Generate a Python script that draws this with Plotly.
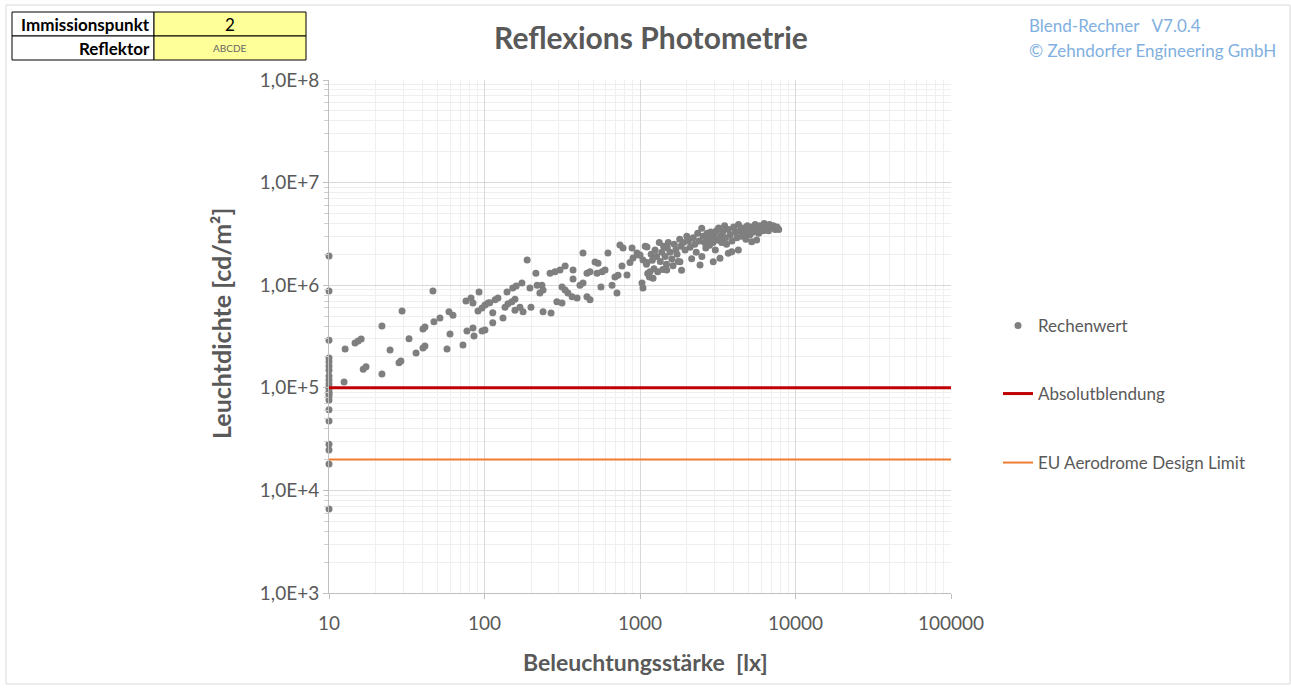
import plotly.graph_objects as go

# ---------------- data ----------------
# Rechenwert points: illuminance [lx] and luminance [cd/m2]
x_edge = [10]*22
y_edge = [1.93e6, 8.8e5, 2.9e5, 1.95e5, 1.79e5, 1.63e5, 1.48e5, 1.19e5, 1.09e5, 9.95e4,
          9.1e4, 8.3e4, 7.6e4, 6.1e4, 4.75e4, 2.82e4, 2.48e4, 1.81e4, 6.6e3, 1.3e5, 1.0e5, 8.8e4]

x_low = [12.7, 12.5, 14.7, 15.4, 16.1, 16.6, 17.3, 21.9, 21.9, 24.7, 28.2, 29.0, 29.5, 32.7,
         36.3, 40.2, 41.4, 40.2, 41.4, 46.6, 47.3, 51.7, 57.4, 60.0, 59.1, 62.7, 72.7, 77.1,
         84.3, 76.0, 81.9, 84.3, 85.6, 92.2, 90.8, 96.4, 100.7, 105.4, 96.4, 100.7]
y_low = [2.39e5, 1.14e5, 2.73e5, 2.86e5, 2.99e5, 1.52e5, 1.60e5, 4.0e5, 1.36e5, 2.33e5,
         1.75e5, 1.82e5, 5.6e5, 3.0e5, 2.18e5, 3.74e5, 3.92e5, 2.44e5, 2.55e5, 8.8e5,
         4.4e5, 4.8e5, 2.39e5, 3.34e5, 5.5e5, 5.1e5, 2.61e5, 3.58e5, 3.83e5, 7.0e5,
         7.5e5, 6.7e5, 3.2e5, 8.6e5, 5.6e5, 6.0e5, 6.4e5, 6.7e5, 3.58e5, 3.66e5]

x_mid = [108, 117, 122, 113, 113, 131.5, 135.5, 141.6, 150, 157, 139.6, 152, 160, 157, 169,
         174, 177, 188, 196, 199, 214, 218, 234, 238, 227, 238, 268, 264, 284, 306, 330,
         292, 315, 315, 330, 344, 366, 394, 371, 371, 411, 430, 430, 456, 477, 456, 477,
         514, 537, 529, 570, 596, 561, 622, 661, 690, 722, 766, 711, 743, 778, 825, 862,
         902, 957, 889, 1000, 1045, 1109, 1030, 1045, 1109, 980]
y_mid = [6.75e5, 7.2e5, 7.5e5, 5.4e5, 4.3e5, 4.8e5, 6.1e5, 6.6e5, 6.9e5, 7.3e5, 8.6e5,
         9.4e5, 9.8e5, 5.7e5, 6.1e5, 1.05e6, 5.5e5, 1.76e6, 9.4e5, 6.1e5, 1.31e6, 1.0e6,
         1.0e6, 8.97e5, 8.4e5, 5.5e5, 5.36e5, 1.31e6, 1.35e6, 1.41e6, 1.54e6, 6.9e5, 6.7e5,
         9.6e5, 8.97e5, 8.4e5, 7.7e5, 7.5e5, 1.41e6, 1.15e6, 1.0e6, 1.05e6, 2.06e6, 1.31e6,
         1.35e6, 7.7e5, 7.2e5, 1.68e6, 1.64e6, 1.31e6, 1.35e6, 1.41e6, 9.6e5, 2.06e6, 1.0e6,
         1.2e6, 1.25e6, 1.54e6, 8.4e5, 2.47e6, 2.3e6, 1.26e6, 1.66e6, 1.84e6, 2.06e6, 2.3e6,
         1.97e6, 1.76e6, 1.66e6, 1.05e6, 9.4e5, 2.36e6, 1.97e6]

x_high = [1080, 1100, 1120, 1150, 1159, 1180, 1200, 1213, 1230, 1250, 1280, 1300, 1330, 1350,
          1380, 1400, 1420, 1450, 1480, 1485, 1500, 1520, 1560, 1600, 1630, 1660, 1700, 1730,
          1760, 1800, 1808, 1830, 1850, 1900, 1950, 2000, 2050, 2100, 2149, 2200, 2250, 2300,
          2350, 2400, 2432, 2494, 2500, 2550, 2600, 2650, 2700, 2750, 2800, 2850, 2900, 2950,
          2958, 3000, 3050, 3100, 3150, 3200, 3268, 3300, 3350, 3400, 3500, 3550, 3600, 3698,
          3700, 3800, 3890, 3900, 4000, 4100, 4200, 4290, 4300, 4400, 4500, 4600, 4700, 4800,
          4900, 5000, 5100, 5200, 5228, 5400, 5500, 5600, 5623, 5800, 5900, 6000, 6200, 6300,
          6500, 6700, 6800, 7000, 7200, 7400, 7600, 7800]
y_high = [2.4e6, 1.6e6, 1.3e6, 1.2e6, 1.35e6, 2.0e6, 1.75e6, 1.17e6, 1.45e6, 2.2e6, 1.9e6,
          1.35e6, 2.6e6, 1.7e6, 2.1e6, 1.42e6, 2.4e6, 1.9e6, 1.6e6, 1.41e6, 2.3e6, 2.6e6,
          2.1e6, 1.8e6, 1.55e6, 2.5e6, 2.2e6, 2.0e6, 1.7e6, 2.8e6, 1.69e6, 2.4e6, 1.4e6,
          2.6e6, 2.2e6, 3.0e6, 2.7e6, 2.35e6, 1.81e6, 2.9e6, 2.5e6, 2.1e6, 3.2e6, 2.7e6,
          1.57e6, 3.59e6, 1.9e6, 3.0e6, 2.6e6, 2.3e6, 3.2e6, 2.8e6, 2.45e6, 3.3e6, 2.9e6,
          2.6e6, 1.69e6, 3.1e6, 2.2e6, 3.4e6, 2.75e6, 3.6e6, 1.83e6, 3.0e6, 2.6e6, 3.3e6,
          3.8e6, 2.9e6, 2.5e6, 2.05e6, 3.5e6, 3.1e6, 2.12e6, 2.7e6, 3.7e6, 3.3e6, 2.9e6,
          2.2e6, 3.9e6, 3.4e6, 3.0e6, 3.6e6, 3.2e6, 2.8e6, 3.8e6, 3.4e6, 3.1e6, 3.7e6,
          2.65e6, 3.3e6, 3.9e6, 3.5e6, 2.76e6, 3.2e6, 3.8e6, 3.6e6, 3.4e6, 4.0e6, 3.7e6,
          3.4e6, 3.9e6, 3.6e6, 3.8e6, 3.5e6, 3.7e6, 3.5e6]

x_points = x_edge + x_low + x_mid + x_high
y_points = y_edge + y_low + y_mid + y_high

limit_x = [10, 100000]
absolut_y = [1e5, 1e5]
eu_y = [2e4, 2e4]

y_tick_vals = [1e3, 1e4, 1e5, 1e6, 1e7, 1e8]
y_tick_text = ["1,0E+3", "1,0E+4", "1,0E+5", "1,0E+6", "1,0E+7", "1,0E+8"]
x_tick_vals = [10, 100, 1000, 10000, 100000]
x_tick_text = ["10", "100", "1000", "10000", "100000"]

minor_mult = [2, 3, 4, 5, 6, 7, 8, 9]
x_minor = [m * d for d in x_tick_vals[:-1] for m in minor_mult]
y_minor = [m * d for d in y_tick_vals[:-1] for m in minor_mult]

# ---------------- layout helpers (pixel -> paper) ----------------
W, H = 1291, 688
L, R, T, B = 329, 951, 80, 593
def px(x):
    return (x - L) / (R - L)
def py(y):
    return (B - y) / (B - T)

FONT = "Lato, 'Open Sans', sans-serif"
GRAY = "#595959"

fig = go.Figure()
fig.add_trace(go.Scatter(
    x=x_points, y=y_points, mode="markers", name="Rechenwert",
    marker=dict(color="#7F7F7F", size=7, line=dict(width=0)),
    cliponaxis=False, legend="legend"))
fig.add_trace(go.Scatter(
    x=limit_x, y=absolut_y, mode="lines", name="Absolutblendung",
    line=dict(color="#C00000", width=3), legend="legend2"))
fig.add_trace(go.Scatter(
    x=limit_x, y=eu_y, mode="lines", name="EU Aerodrome Design Limit",
    line=dict(color="#ED7D31", width=2), legend="legend3"))

axis_common = dict(
    showline=True, linecolor="#BFBFBF", linewidth=1,
    gridcolor="#D9D9D9", gridwidth=1,
    ticks="outside", ticklen=5, tickcolor="#BFBFBF",
    tickfont=dict(family=FONT, size=19, color=GRAY),
    zeroline=False,
)

fig.update_xaxes(type="log", range=[1, 5], tickvals=x_tick_vals, ticktext=x_tick_text,
                 minor=dict(tickvals=x_minor, showgrid=True, gridcolor="#EFEFEF",
                            ticks="", ticklen=0),
                 ticklabelstandoff=8,
                 **axis_common)
fig.update_yaxes(type="log", range=[3, 8], tickvals=y_tick_vals, ticktext=y_tick_text,
                 minor=dict(tickvals=y_minor, showgrid=True, gridcolor="#EFEFEF",
                            ticks="outside", ticklen=4, tickcolor="#D0D0D0"),
                 **axis_common)

legend_common = dict(font=dict(family=FONT, size=17, color=GRAY), bgcolor="rgba(0,0,0,0)",
                     xanchor="left", yanchor="middle", itemwidth=30, borderwidth=0)
fig.update_layout(
    width=W, height=H,
    margin=dict(l=L, r=W - R, t=T, b=H - B, autoexpand=False),
    paper_bgcolor="white", plot_bgcolor="white",
    title=dict(text="<b>Reflexions Photometrie</b>", x=px(651), xref="paper", xanchor="center",
               y=1 - 38 / H, yanchor="middle", font=dict(family=FONT, size=30, color=GRAY)),
    legend=dict(x=px(998), y=py(326), **legend_common),
    legend2=dict(x=px(998), y=py(394), **legend_common),
    legend3=dict(x=px(998), y=py(463), **legend_common),
    showlegend=True,
)

# axis titles
fig.add_annotation(x=px(645), y=py(662), xref="paper", yref="paper", xanchor="center", yanchor="middle",
                   text="<b>Beleuchtungsstärke  [lx]</b>", showarrow=False,
                   font=dict(family=FONT, size=23, color=GRAY))
fig.add_annotation(x=px(221), y=py(324), xref="paper", yref="paper", xanchor="center", yanchor="middle",
                   text="<b>Leuchtdichte [cd/m²]</b>", showarrow=False, textangle=-90,
                   font=dict(family=FONT, size=25, color=GRAY))

# chart area border
fig.add_shape(type="rect", xref="paper", yref="paper", x0=px(6), x1=px(1290), y0=py(684), y1=py(5),
              line=dict(color="#D9D9D9", width=1), fillcolor="rgba(0,0,0,0)", layer="below")

# info table at top-left
cells = [(12, 12, 154, 36, "white"), (154, 12, 306, 36, "#FFFF99"),
         (12, 36, 154, 60, "white"), (154, 36, 306, 60, "#FFFF99")]
for x0, y0, x1, y1, fc in cells:
    fig.add_shape(type="rect", xref="paper", yref="paper", x0=px(x0), x1=px(x1), y0=py(y1), y1=py(y0),
                  line=dict(color="black", width=1), fillcolor=fc)

table_labels = ["Immissionspunkt", "Reflektor"]
table_values = ["2", "ABCDE"]
fig.add_annotation(x=px(152), y=py(24), xref="paper", yref="paper", xanchor="right", yanchor="middle",
                   text="<b>" + table_labels[0] + "</b>", showarrow=False,
                   font=dict(family=FONT, size=17, color="black"))
fig.add_annotation(x=px(152), y=py(48), xref="paper", yref="paper", xanchor="right", yanchor="middle",
                   text="<b>" + table_labels[1] + "</b>", showarrow=False,
                   font=dict(family=FONT, size=17, color="black"))
fig.add_annotation(x=px(230), y=py(24), xref="paper", yref="paper", xanchor="center", yanchor="middle",
                   text=table_values[0], showarrow=False, font=dict(family=FONT, size=17, color="black"))
fig.add_annotation(x=px(230), y=py(48), xref="paper", yref="paper", xanchor="center", yanchor="middle",
                   text=table_values[1], showarrow=False, font=dict(family=FONT, size=10, color="#666666"))

# top-right info
fig.add_annotation(x=px(1027), y=py(26), xref="paper", yref="paper", xanchor="left", yanchor="middle",
                   text="Blend-Rechner   V7.0.4", showarrow=False,
                   font=dict(family=FONT, size=17, color="#7FB0E0"))
fig.add_annotation(x=px(1027), y=py(51), xref="paper", yref="paper", xanchor="left", yanchor="middle",
                   text="© Zehndorfer Engineering GmbH", showarrow=False,
                   font=dict(family=FONT, size=17, color="#7FB0E0"))

fig.write_html("out.html", config={"displayModeBar": False},
               post_script="document.body.style.margin='0';")
